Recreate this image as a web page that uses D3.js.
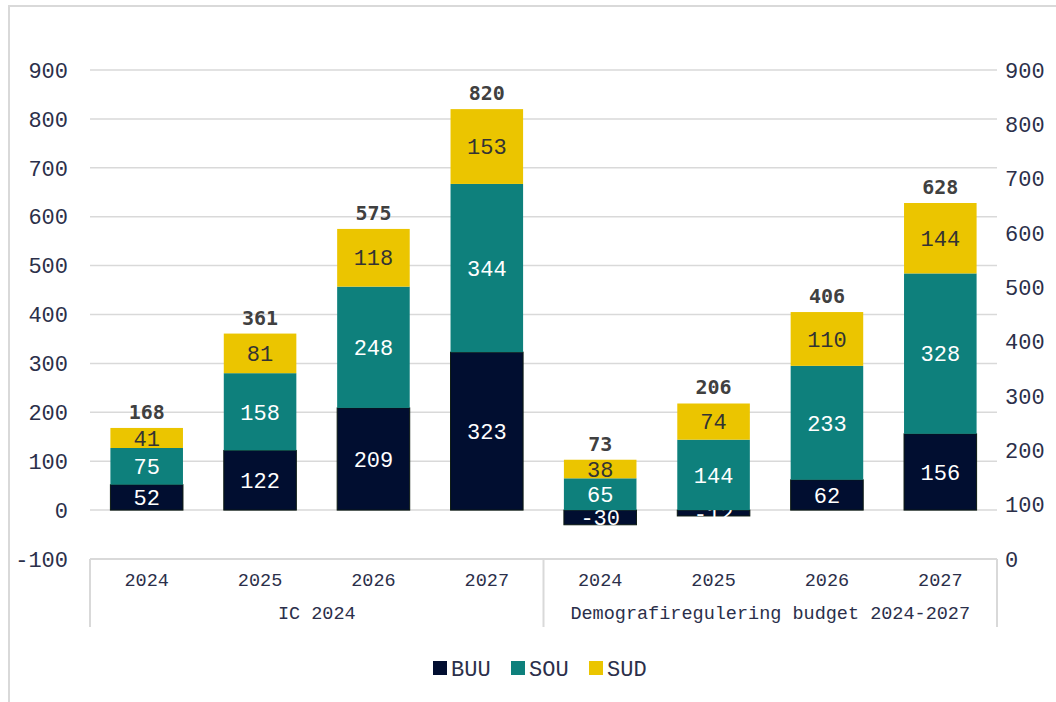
<!DOCTYPE html>
<html>
<head>
<meta charset="utf-8">
<script src="https://cdn.jsdelivr.net/npm/d3@7"></script>
<style>
  body { margin: 0; background: #fff; }
  svg { display: block; }
</style>
</head>
<body>
<svg id="chart"></svg>
<script>
// data
const groups = ["IC 2024", "Demografiregulering budget 2024-2027"]
const years = ["2024", "2025", "2026", "2027"]
const seriesNames = ["BUU", "SOU", "SUD"]
const buu = [52, 122, 209, 323, -30, -12, 62, 156]
const sou = [75, 158, 248, 344, 65, 144, 233, 328]
const sud = [41, 81, 118, 153, 38, 74, 110, 144]
const totals = [168, 361, 575, 820, 73, 206, 406, 628]
const leftTicks = [-100, 0, 100, 200, 300, 400, 500, 600, 700, 800, 900]
const rightTicks = [0, 100, 200, 300, 400, 500, 600, 700, 800, 900]

const colors = { BUU: "#010e30", SOU: "#0e807c", SUD: "#ebc500" }
const labelColors = { BUU: "#ffffff", SOU: "#ffffff", SUD: "#333333" }

const width = 1056
const height = 702
const svg = d3.select("#chart").attr("width", width).attr("height", height)

// rows for stacking
const rows = []
groups.forEach((g, gi) => {
  years.forEach((yr, yi) => {
    const i = gi * years.length + yi
    rows.push({ key: g + "|" + yr, group: g, year: yr, BUU: buu[i], SOU: sou[i], SUD: sud[i], total: totals[i] })
  })
})

const x = d3.scaleBand().domain(rows.map(d => d.key)).range([90, 997]).padding(0)
const y = d3.scaleLinear().domain([-100, 900]).range([559, 70])
const yRight = d3.scaleLinear().domain([0, 900]).range([559, 70])
const barW = x.bandwidth() * 0.64
const barOff = (x.bandwidth() - barW) / 2

// outer frame
svg.append("path")
  .attr("d", "M9,702 L9,6 L1056,6")
  .attr("fill", "none").attr("stroke", "#d9d9d9").attr("stroke-width", 2)

// gridlines
svg.append("g").selectAll("line")
  .data(leftTicks.filter(d => d > -100))
  .join("line")
  .attr("x1", 90).attr("x2", 997)
  .attr("y1", d => y(d)).attr("y2", d => y(d))
  .attr("stroke", "#d9d9d9").attr("stroke-width", 1.5)

// left axis labels
svg.append("g").selectAll("text")
  .data(leftTicks)
  .join("text")
  .attr("x", 68).attr("y", d => y(d))
  .attr("dy", "0.35em")
  .attr("text-anchor", "end")
  .style("font-family", "'Liberation Mono', 'Courier New', monospace")
  .style("font-size", "22px")
  .attr("fill", "#2b2f4a")
  .text(d => d)

// right axis labels
svg.append("g").selectAll("text")
  .data(rightTicks)
  .join("text")
  .attr("x", 1005).attr("y", d => yRight(d))
  .attr("dy", "0.35em")
  .attr("text-anchor", "start")
  .style("font-family", "'Liberation Mono', 'Courier New', monospace")
  .style("font-size", "22px")
  .attr("fill", "#2b2f4a")
  .text(d => d)

// stacked bars
const stack = d3.stack().keys(seriesNames).offset(d3.stackOffsetDiverging)
const stacked = stack(rows)

stacked.forEach(layer => {
  const name = layer.key
  const g = svg.append("g")
  g.selectAll("rect")
    .data(layer)
    .join("rect")
    .attr("x", d => x(d.data.key) + barOff)
    .attr("width", barW)
    .attr("y", d => y(Math.max(d[0], d[1])))
    .attr("height", d => Math.abs(y(d[0]) - y(d[1])))
    .attr("fill", colors[name])
    .attr("stroke", name == "BUU" ? "#0d1a12" : "none")
    .attr("stroke-width", 1)

  g.selectAll("text")
    .data(layer)
    .join("text")
    .attr("x", d => x(d.data.key) + x.bandwidth() / 2)
    .attr("y", d => y((d[0] + d[1]) / 2))
    .attr("dy", "0.35em")
    .attr("text-anchor", "middle")
    .style("font-family", "'Liberation Mono', 'Courier New', monospace")
    .style("font-size", "22px")
    .attr("fill", labelColors[name])
    .text(d => d.data[name])
})

// totals above the bars
const tops = stacked[stacked.length - 1]
svg.append("g").selectAll("text")
  .data(tops)
  .join("text")
  .attr("x", d => x(d.data.key) + x.bandwidth() / 2)
  .attr("y", d => y(d[1]) - 9)
  .attr("text-anchor", "middle")
  .style("font-family", "'DejaVu Sans Mono', monospace")
  .style("font-weight", "bold")
  .style("font-size", "20px")
  .attr("fill", "#404040")
  .text(d => d.data.total)

// category axis box
const axisG = svg.append("g")
axisG.append("line")
  .attr("x1", 90).attr("x2", 997)
  .attr("y1", y(-100)).attr("y2", y(-100))
  .attr("stroke", "#d9d9d9").attr("stroke-width", 2)

const groupEdges = [90, x(rows[4].key), 997]
axisG.selectAll(".sep")
  .data(groupEdges)
  .join("line")
  .attr("class", "sep")
  .attr("x1", d => d).attr("x2", d => d)
  .attr("y1", y(-100)).attr("y2", 627)
  .attr("stroke", "#d9d9d9").attr("stroke-width", 2)

axisG.selectAll(".yr")
  .data(rows)
  .join("text")
  .attr("class", "yr")
  .attr("x", d => x(d.key) + x.bandwidth() / 2)
  .attr("y", 586)
  .attr("text-anchor", "middle")
  .style("font-family", "'Liberation Mono', 'Courier New', monospace")
  .style("font-size", "18.5px")
  .attr("fill", "#2b2f4a")
  .text(d => d.year)

axisG.selectAll(".grp")
  .data(groups)
  .join("text")
  .attr("class", "grp")
  .attr("x", (d, i) => (groupEdges[i] + groupEdges[i + 1]) / 2)
  .attr("y", 619)
  .attr("text-anchor", "middle")
  .style("font-family", "'Liberation Mono', 'Courier New', monospace")
  .style("font-size", "18.5px")
  .attr("fill", "#2b2f4a")
  .text(d => d)

// legend
const legend = svg.append("g").attr("transform", "translate(433, 668)")
const legendStep = [0, 78, 156]
seriesNames.forEach((name, i) => {
  const row = legend.append("g").attr("transform", "translate(" + legendStep[i] + ",0)")
  row.append("rect")
    .attr("x", 0).attr("y", -7)
    .attr("width", 14).attr("height", 14)
    .attr("fill", colors[name])
  row.append("text")
    .attr("x", 18).attr("y", 0)
    .attr("dy", "0.35em")
    .style("font-family", "'Liberation Mono', 'Courier New', monospace")
    .style("font-size", "22px")
    .attr("fill", "#2b2f4a")
    .text(name)
})
</script>
</body>
</html>
